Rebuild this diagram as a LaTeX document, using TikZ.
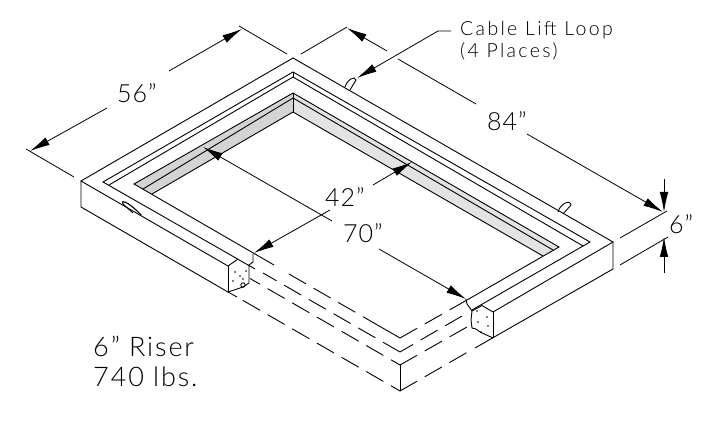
\documentclass[tikz,border=0pt]{standalone}
\usepackage{fontspec}
\usepackage{tikz}
\usetikzlibrary{arrows.meta}
\newfontfamily\cadfont{Lato Light}
\tikzset{
  edge/.style={line width=0.9pt,black},
  hidden/.style={line width=0.9pt,black,dash pattern=on 19.7pt off 8.8pt},
  dim/.style={line width=0.8pt,black},
  dimarrow/.style={line width=0.8pt,black,-{Latex[length=20pt,width=8.5pt]}},
  shadeleft/.style={fill=black!17},
  shaderight/.style={fill=black!11},
  dimlabel/.style={font=\cadfont\fontsize{25}{25}\selectfont\addfontfeature{LetterSpace=4},inner sep=0pt,anchor=base west},
  notelabel/.style={font=\cadfont\fontsize{19.5}{19.5}\selectfont\addfontfeature{LetterSpace=12},inner sep=0pt,anchor=base west},
  risk/.style={font=\cadfont\fontsize{27}{27}\selectfont\addfontfeature{LetterSpace=7},inner sep=0pt,anchor=base west}
}
\begin{document}
\begin{tikzpicture}[x=1pt,y=-1pt]
	\useasboundingbox (0,0) rectangle (725,443);
	% shaded inner walls
	\fill[shadeleft] (293,93)--(134,184)--(152,194)--(293,112)--cycle;
	\fill[shaderight] (293,93)--(559,247)--(543,256)--(293,112)--cycle;
	% frame
	\draw[edge] (228,266)--(81,181)--(293,58)--(613,242)--(493,312);
	\draw[edge] (81,181)--(81,207)--(228,292);
	\draw[edge] (613,242)--(613,269)--(475,348);
	\draw[edge] (255,269)--(103,182)--(293,72)--(590,242)--(472,310);
	\draw[edge] (109,185)--(293,77)--(583,246);
	\draw[edge] (274,265)--(134,184)--(293,93)--(559,247)--(467,300);
	\draw[edge] (143,189)--(293,98)--(553,250);
	\draw[edge] (293,72)--(293,77);
	\draw[edge] (293,93)--(293,112);
	\draw[edge] (152,194)--(293,112)--(543,256);
	% hidden part
	\draw[hidden,dash phase=0] (380,326.5)--(282,270);
	\draw[edge] (400,338)--(380,326.5);
	\draw[hidden,dash phase=0] (400,352)--(263,273);
	\draw[hidden,dash phase=9.3] (400,365)--(250,278.5);
	\draw[hidden,dash phase=9.3] (400,391)--(237,297);
	\draw[edge] (228,292)--(237,297);
	\draw[edge] (400,365)--(400,391);
	\draw[hidden] (400,338)--(467,300);
	\draw[hidden,dash phase=4.7] (400,352)--(462,316);
	\draw[hidden,dash phase=0] (400,365)--(467,327);
	\draw[hidden,dash phase=0] (400,391)--(467,352.5);
	% cut ends
	\draw[edge] (228,266)--(228,292);
	\draw[edge] (493,312)--(493,338);
	\draw[edge] (249,265)--(253,262)--(253,254);
	\draw[edge] (238,259)--(228,266);
	\draw[edge] (249,265)--(249,283)--(243,287)--(228,292);
	\draw[edge] (243,285) circle (2.2pt);
	\draw[edge] (493,312)--(482,305.5)--(472,311)--(471,320)--(472,328)--(476,329)--(480,332)--(493,338);
	\draw[edge] (466,299)--(467,304)--(472,311);
	\foreach \p in {(235,272),(246,271),(233,281),(240,276),(243,279)}
		\fill \p circle (0.8pt);
	\foreach \p in {(477,311),(487,317),(478,322),(488,326),(481,332)}
		\fill \p circle (0.8pt);
	% lift loops
	\draw[edge] (345,87)..controls (347,80) and (355,75) .. (356,80)--(350,90);
	\draw[edge] (558,212)..controls (560,204) and (570,199) .. (571,205)--(563,214);
	\draw[line width=1.1pt] (123,204)..controls (120,200) and (127,200) .. (141,215);
	\draw[edge] (123,204)--(133,213);
	% dimensions
	\coordinate (d56a) at (30,151);
	\coordinate (d56b) at (242,29);
	\draw[dimarrow] (107,108)--(d56a);
	\draw[dimarrow] (169,71)--(d56b);
	\draw[dim] (26,149)--(74,177);
	\draw[dim] (239,26)--(287,54);
	\node[dimlabel] (lab56) at (117,103) {56”};
	\coordinate (d84a) at (347,28);
	\coordinate (d84b) at (663,212);
	\draw[dim] (301,54)--(347,27);
	\draw[dimarrow] (387,51)--(d84a);
	\draw[dim] (398,59)--(476,104);
	\draw[dimarrow] (527,134)--(d84b);
	\node[dimlabel] (lab84) at (487,131) {84”};
	\coordinate (d6a) at (664,212);
	\coordinate (d6b) at (664,237);
	\draw[dim] (620,238)--(667,211);
	\draw[dim] (620,265)--(668,237);
	\draw[dimarrow] (664,179)--(d6a);
	\draw[dimarrow] (664,273)--(d6b);
	\node[dimlabel] (lab6) at (669,234) {6”};
	\coordinate (d42a) at (254,253);
	\coordinate (d42b) at (412,162);
	\draw[dimarrow] (330,210)--(d42a);
	\draw[dimarrow] (373,185)--(d42b);
	\node[dimlabel] (lab42) at (325,207) {42”};
	\coordinate (d70a) at (203,147);
	\coordinate (d70b) at (466,299);
	\draw[dimarrow] (332,221)--(d70a);
	\draw[dimarrow] (379,249)--(d70b);
	\node[dimlabel] (lab70) at (343,243) {70”};
	% leader
	\coordinate (loopend) at (357,78);
	\draw[dimarrow] (451,31)--(438,31)--(loopend);
	\node[notelabel] (noteone) at (460,36) {Cable Lift Loop};
	\node[notelabel] (notetwo) at (460,58) {(4 Places)};
	% weight note
	\node[risk] (riser) at (93,356) {6” Riser};
	\node[risk] (weight) at (93,386) {740 lbs.};
\end{tikzpicture}
\end{document}
